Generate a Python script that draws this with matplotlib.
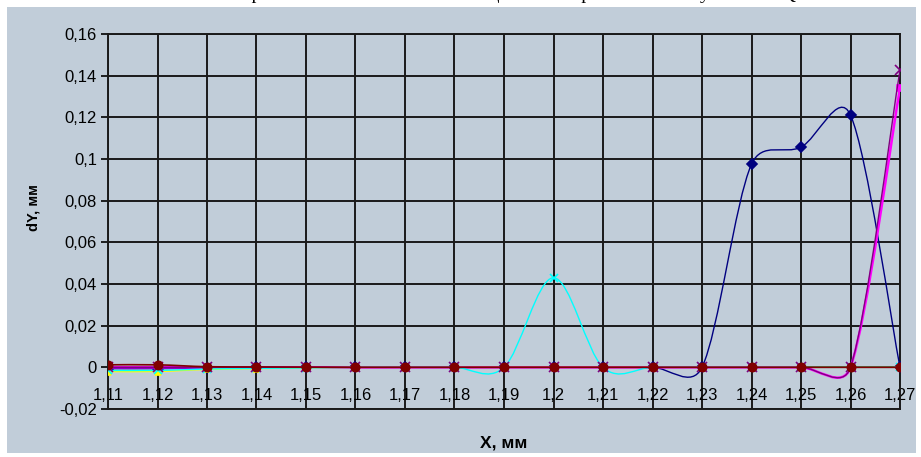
import matplotlib.pyplot as plt
import numpy as np
from matplotlib.path import Path
from matplotlib.patches import PathPatch, Rectangle

plt.rcParams['font.family'] = ['Liberation Sans', 'DejaVu Sans']

# categories on the X axis
x_vals = [1.11, 1.12, 1.13, 1.14, 1.15, 1.16, 1.17, 1.18, 1.19, 1.20, 1.21, 1.22, 1.23, 1.24, 1.25, 1.26, 1.27]
x_labels = ['1,11', '1,12', '1,13', '1,14', '1,15', '1,16', '1,17', '1,18', '1,19',
            '1,2', '1,21', '1,22', '1,23', '1,24', '1,25', '1,26', '1,27']
y_ticks = [-0.02, 0, 0.02, 0.04, 0.06, 0.08, 0.1, 0.12, 0.14, 0.16]
y_labels = ['-0,02', '0', '0,02', '0,04', '0,06', '0,08', '0,1', '0,12', '0,14', '0,16']

# series values
s_navy = [-0.0006, -0.0006, -0.0003, 0, 0, 0, 0, 0, 0, 0, 0, 0, 0, 0.0975, 0.1057, 0.1211, 0]
s_magenta = [0, 0, 0, 0, 0, 0, 0, 0, 0, 0, 0, 0, 0, 0, 0, 0, 0.134]
s_yellow = [-0.002, -0.002, -0.001, -0.0006, -0.0003, 0, 0, 0, 0, 0, 0, 0, 0, 0, 0, 0, 0]
s_cyan = [-0.0015, -0.0015, -0.0008, -0.0005, -0.0003, 0, 0, 0, 0, 0.043, 0, 0, 0, 0, 0, 0, 0]
s_purple = [0, 0, 0, 0, 0, 0, 0, 0, 0, 0, 0, 0, 0, 0, 0, 0, 0.1427]
s_maroon = [0.0012, 0.0012, 0.0003, 0.0002, 0.0001, 0, 0, 0, 0, 0, 0, 0, 0, 0, 0, 0, 0]

xlim = (1.11, 1.27)
ylim = (-0.02, 0.16)
ax_px = (108, 34, 792, 375)  # left, top, width, height in pixels


def smooth_path(xs, ys):
    # Excel-like smoothed line: bezier segments, tangents worked out in pixel space,
    # arm length capped at half the segment length
    sx = ax_px[2] / (xlim[1] - xlim[0])
    sy = ax_px[3] / (ylim[1] - ylim[0])
    pts = np.column_stack([np.array(xs) * sx, np.array(ys) * sy])
    n = len(pts)

    def arm(a, b, seg):
        d = (b - a) / 6
        L = np.hypot(*d)
        cap = np.hypot(*seg) / 2
        if L > cap:
            d = d * cap / L
        return d

    verts = [pts[0]]
    codes = [Path.MOVETO]
    for i in range(n - 1):
        p0 = pts[i - 1] if i > 0 else pts[i]
        p1 = pts[i]
        p2 = pts[i + 1]
        p3 = pts[i + 2] if i + 2 < n else pts[i + 1]
        seg = p2 - p1
        verts += [p1 + arm(p0, p2, seg), p2 - arm(p1, p3, seg), p2]
        codes += [Path.CURVE4] * 3
    verts = np.array(verts) / [sx, sy]
    return Path(verts, codes)


bg = '#c1cdd9'
fig = plt.figure(figsize=(9.21, 4.57), dpi=100, facecolor='white')
fig.patches.append(Rectangle((7 / 921, 4 / 457), 909 / 921, 446 / 457,
                             transform=fig.transFigure, facecolor=bg, edgecolor='none', zorder=-5))

ax = fig.add_axes([ax_px[0] / 921, 1 - (ax_px[1] + ax_px[3]) / 457, ax_px[2] / 921, ax_px[3] / 457])
ax.set_facecolor(bg)

series = [
    (s_navy, '#000080', 'D', 5, 1.0),
    (s_magenta, '#ff00ff', 's', 5, 1.8),
    (s_yellow, '#ffff00', '^', 5, 1.0),
    (s_cyan, '#00ffff', 'x', 6, 1.0),
    (s_purple, '#800080', 'x', 7, 1.0),
    (s_maroon, '#800000', 'o', 6, 1.2),
]
z = 3
for vals, col, mk, ms, lw in series:
    ax.add_patch(PathPatch(smooth_path(x_vals, vals), fill=False, edgecolor=col, lw=lw, zorder=z))
    ax.plot(x_vals, vals, ls='none', marker=mk, ms=ms, color=col, mec=col, mew=1.2, zorder=z + 0.5)
    z += 1

ax.set_xlim(*xlim)
ax.set_ylim(*ylim)
ax.set_xticks(x_vals, x_labels)
ax.set_yticks(y_ticks, y_labels)
ax.grid(True, color='#1a1a1a', lw=1.4)
ax.set_axisbelow(True)
for sp in ax.spines.values():
    sp.set_color('#1a1a1a')
    sp.set_linewidth(1.4)
ax.tick_params(axis='x', length=0, pad=-15, labelsize=12)
ax.tick_params(axis='y', length=5, width=1.2, direction='out', labelsize=12, pad=3)

fig.text(33 / 921, 1 - 208 / 457, 'dY, мм', rotation=90, ha='center', va='center',
         fontsize=10.5, fontweight='bold')
fig.text(504 / 921, 1 - 443 / 457, 'X, мм', ha='center', va='center',
         fontsize=12.5, fontweight='bold')
# title, mostly cut off at the top edge (as in the reference)
fig.text(0.51, 1 + 1 / 457, 'Рис. 4. Экспериментальные значения смещения dY при изменении угла X от Q',
         ha='center', va='baseline', fontsize=14, family=['Liberation Serif', 'DejaVu Serif'])

fig.savefig('out.png', dpi=100, facecolor='white')
